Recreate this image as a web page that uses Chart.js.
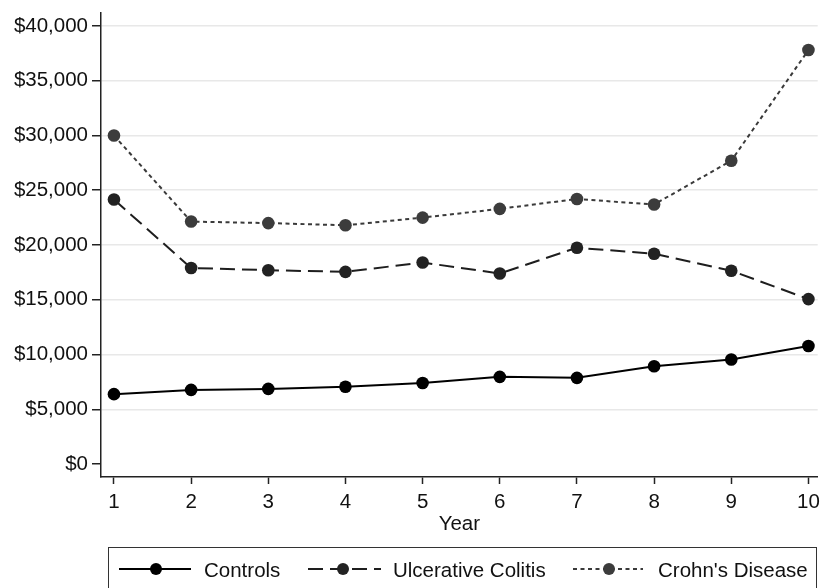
<!DOCTYPE html>
<html>
<head>
<meta charset="utf-8">
<script src="https://cdn.jsdelivr.net/npm/chart.js@4/dist/chart.umd.min.js"></script>
<style>
  html, body { margin: 0; padding: 0; background: #fff; overflow: hidden; }
  #wrap { position: relative; width: 824px; height: 588px; }
  #c { position: absolute; left: 0; top: 0; }
  #legend { position: absolute; left: 108px; top: 547px; width: 709px; height: 60px;
            border: 1.5px solid #333; box-sizing: border-box; font-family: "Liberation Sans", Arial, sans-serif;
            font-size: 20.5px; color: #111; }
  .item { position: absolute; top: 0; height: 44px; }
  .item svg { position: absolute; top: 0; }
  .item span { position: absolute; top: 10px; white-space: nowrap; line-height: 24px; }
</style>
</head>
<body>
<div id="wrap">
  <canvas id="c" width="824" height="588"></canvas>
  <div id="legend"></div>
</div>
<script>
const years = [1, 2, 3, 4, 5, 6, 7, 8, 9, 10];
const controls = [6380, 6770, 6860, 7050, 7400, 7960, 7870, 8930, 9540, 10780];
const ulcerativeColitis = [24150, 17900, 17700, 17550, 18400, 17400, 19750, 19200, 17650, 15060];
const crohnsDisease = [30000, 22140, 22000, 21800, 22500, 23300, 24200, 23700, 27700, 37800];
const yTicks = [0, 5000, 10000, 15000, 20000, 25000, 30000, 35000, 40000];
const xTicks = [1, 2, 3, 4, 5, 6, 7, 8, 9, 10];
const seriesNames = ['Controls', 'Ulcerative Colitis', "Crohn's Disease"];

const FONT = { family: '"Liberation Sans", Arial, sans-serif', size: 20.5 };
const pts = arr => years.map((x, i) => ({ x: x, y: arr[i] }));

const styles = [
  { color: '#000000', point: '#000000', dash: [] },
  { color: '#1e1e1e', point: '#222222', dash: [15, 7] },
  { color: '#3a3a3a', point: '#3c3c3c', dash: [4, 3.5] }
];
const seriesData = [controls, ulcerativeColitis, crohnsDisease];

const chart = new Chart(document.getElementById('c'), {
  type: 'line',
  data: {
    datasets: seriesData.map((arr, i) => ({
      label: seriesNames[i],
      data: pts(arr),
      borderColor: styles[i].color,
      borderWidth: 2,
      borderDash: styles[i].dash,
      pointBackgroundColor: styles[i].point,
      pointBorderColor: styles[i].point,
      pointBorderWidth: 0,
      pointRadius: 6.3,
      tension: 0,
      fill: false
    })).reverse()
  },
  options: {
    responsive: false,
    animation: false,
    layout: { padding: { left: 0, right: -2, top: 13, bottom: 51 } },
    plugins: { legend: { display: false }, tooltip: { enabled: false } },
    scales: {
      x: {
        type: 'linear',
        min: 0.832,
        max: 10.12,
        afterBuildTicks: s => { s.ticks = xTicks.map(v => ({ value: v })); },
        afterFit: s => { s.height = 60; s.paddingLeft = 0; s.paddingRight = 0; },
        ticks: { font: FONT, color: '#111', padding: 6, maxRotation: 0, autoSkip: false,
                 callback: v => String(v) },
        grid: { drawOnChartArea: false, drawTicks: true, tickLength: 7, tickColor: '#222', tickWidth: 1.5 },
        border: { display: true, color: '#222', width: 1.5 },
        title: { display: true, text: 'Year', font: FONT, color: '#111', padding: { top: 0, bottom: 0 } }
      },
      y: {
        type: 'linear',
        min: -1185,
        max: 41185,
        afterBuildTicks: s => { s.ticks = yTicks.map(v => ({ value: v })); },
        afterFit: s => { s.width = 101; s.paddingTop = 0; s.paddingBottom = 0; },
        ticks: { font: FONT, color: '#111', padding: 4, autoSkip: false,
                 callback: v => '$' + Number(v).toLocaleString('en-US') },
        grid: {
          drawOnChartArea: true, drawTicks: true, tickLength: 9, tickWidth: 1.5,
          tickColor: '#222',
          color: ctx => (ctx.tick && ctx.tick.value === 0) ? 'rgba(0,0,0,0)' : '#e8e8e8',
          lineWidth: 1.5
        },
        border: { display: true, color: '#222', width: 1.5 }
      }
    }
  }
});

// HTML legend built from the chart's datasets
const legendLayout = [
  { glyphL: 118, glyphR: 190, dot: 155, text: 203 },
  { glyphL: 307, glyphR: 380, dot: 342, text: 392 },
  { glyphL: 572, glyphR: 642, dot: 608, text: 657 }
];
const legend = document.getElementById('legend');
const legendLeft = 108;
seriesNames.forEach((name, i) => {
  const L = legendLayout[i];
  const st = styles[i];
  const item = document.createElement('div');
  item.className = 'item';
  item.style.left = (L.glyphL - legendLeft) + 'px';
  const w = L.glyphR - L.glyphL;
  const d = L.dot - L.glyphL;
  const dash = st.dash.length ? ` stroke-dasharray="${st.dash.join(' ')}"` : '';
  item.innerHTML =
    `<svg width="${w}" height="44" xmlns="http://www.w3.org/2000/svg">` +
    `<line x1="0" y1="21" x2="${w}" y2="21" stroke="${st.color}" stroke-width="2"${dash}/>` +
    `<circle cx="${d}" cy="21" r="6" fill="${st.point}"/></svg>` +
    `<span style="left:${L.text - L.glyphL}px">${name}</span>`;
  legend.appendChild(item);
});
</script>
</body>
</html>
